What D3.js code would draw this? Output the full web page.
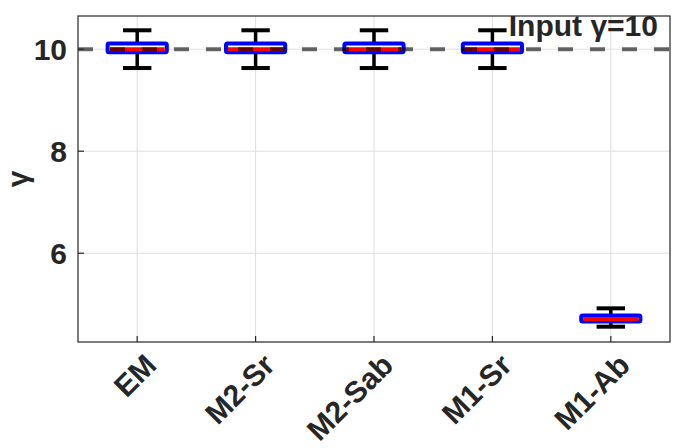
<!DOCTYPE html>
<html>
<head>
<meta charset="utf-8">
<script src="https://cdn.jsdelivr.net/npm/d3@7"></script>
<style>
    body { margin: 0; background: #fff; }
    text { font-family: "Liberation Sans", Arial, sans-serif; font-weight: bold; fill: #262626; }
</style>
</head>
<body>
<div id="chart-div"></div>
<script>
const categories = ["EM", "M2-Sr", "M2-Sab", "M1-Sr", "M1-Ab"];
const medians = [10.0, 10.0, 10.0, 10.0, 4.71];
const q1 = [9.94, 9.94, 9.94, 9.94, 4.66];
const q3 = [10.11, 10.11, 10.11, 10.11, 4.78];
const whiskerLow = [9.63, 9.63, 9.63, 9.63, 4.56];
const whiskerHigh = [10.37, 10.37, 10.37, 10.37, 4.92];
const yTicks = [6, 8, 10];
const inputGamma = 10;

const WIDTH = 678;
const HEIGHT = 448;
const LEFT = 78, RIGHT = 670, TOP = 16, BOTTOM = 342;
const BOX_WIDTH = 0.5;
const CAP_WIDTH = 0.24;

let rows = categories.map((c, i) => ({
    name: c, pos: i + 1, med: medians[i], lo: q1[i], hi: q3[i],
    wlo: whiskerLow[i], whi: whiskerHigh[i]
}));

let svg = d3.select("#chart-div")
    .append("svg")
    .attr("width", WIDTH)
    .attr("height", HEIGHT);

let xScale = d3.scaleLinear().domain([0.5, 5.5]).range([LEFT, RIGHT]);
let yScale = d3.scaleLinear().domain([4.26, 10.65]).range([BOTTOM, TOP]);

// grid
svg.append("g").selectAll("line").data(rows).enter().append("line")
    .attr("x1", d => xScale(d.pos)).attr("x2", d => xScale(d.pos))
    .attr("y1", TOP).attr("y2", BOTTOM)
    .attr("stroke", "#dedede").attr("stroke-width", 1);
svg.append("g").selectAll("line").data(yTicks).enter().append("line")
    .attr("x1", LEFT).attr("x2", RIGHT)
    .attr("y1", d => yScale(d)).attr("y2", d => yScale(d))
    .attr("stroke", "#dedede").attr("stroke-width", 1);

// boxes
let boxes = svg.append("g").selectAll("g").data(rows).enter().append("g");

boxes.append("line")
    .attr("x1", d => xScale(d.pos)).attr("x2", d => xScale(d.pos))
    .attr("y1", d => yScale(d.whi)).attr("y2", d => yScale(d.hi))
    .attr("stroke", "#000").attr("stroke-width", 3.5);
boxes.append("line")
    .attr("x1", d => xScale(d.pos)).attr("x2", d => xScale(d.pos))
    .attr("y1", d => yScale(d.lo)).attr("y2", d => yScale(d.wlo))
    .attr("stroke", "#000").attr("stroke-width", 3.5);
boxes.selectAll(".cap")
    .data(d => [d.wlo, d.whi].map(v => ({ pos: d.pos, v: v })))
    .enter().append("line")
    .classed("cap", true)
    .attr("x1", d => xScale(d.pos - CAP_WIDTH / 2))
    .attr("x2", d => xScale(d.pos + CAP_WIDTH / 2))
    .attr("y1", d => yScale(d.v)).attr("y2", d => yScale(d.v))
    .attr("stroke", "#000").attr("stroke-width", 4);

boxes.append("rect")
    .attr("x", d => xScale(d.pos - BOX_WIDTH / 2))
    .attr("width", d => xScale(d.pos + BOX_WIDTH / 2) - xScale(d.pos - BOX_WIDTH / 2))
    .attr("y", d => yScale(d.hi))
    .attr("height", d => yScale(d.lo) - yScale(d.hi))
    .attr("fill", "#fff")
    .attr("stroke", "#0000ff").attr("stroke-width", 4)
    .attr("stroke-linejoin", "round")
    .attr("rx", 1.5);

boxes.append("line")
    .attr("x1", d => xScale(d.pos - BOX_WIDTH / 2) + 2)
    .attr("x2", d => xScale(d.pos + BOX_WIDTH / 2) - 2)
    .attr("y1", d => yScale(d.med)).attr("y2", d => yScale(d.med))
    .attr("stroke", "#ff0000").attr("stroke-width", 4);

// input value reference line
svg.append("line")
    .attr("x1", LEFT).attr("x2", RIGHT)
    .attr("y1", yScale(inputGamma)).attr("y2", yScale(inputGamma))
    .attr("stroke", "rgba(0,0,0,0.6)")
    .attr("stroke-width", 4)
    .attr("stroke-dasharray", "15,17");

// axes frame
svg.append("rect")
    .attr("x", LEFT).attr("y", TOP)
    .attr("width", RIGHT - LEFT).attr("height", BOTTOM - TOP)
    .attr("fill", "none").attr("stroke", "#262626").attr("stroke-width", 1.2);

// tick marks
svg.append("g").selectAll("line").data(yTicks).enter().append("line")
    .attr("x1", LEFT).attr("x2", LEFT + 6)
    .attr("y1", d => yScale(d)).attr("y2", d => yScale(d))
    .attr("stroke", "#262626").attr("stroke-width", 1.2);
svg.append("g").selectAll("line").data(rows).enter().append("line")
    .attr("x1", d => xScale(d.pos)).attr("x2", d => xScale(d.pos))
    .attr("y1", BOTTOM).attr("y2", BOTTOM - 6)
    .attr("stroke", "#262626").attr("stroke-width", 1.2);

// tick labels
svg.append("g").selectAll("text").data(yTicks).enter().append("text")
    .attr("x", LEFT - 11)
    .attr("y", d => yScale(d) + 11)
    .attr("text-anchor", "end")
    .style("font-size", "30px")
    .text(d => d);

svg.append("g").selectAll("text").data(rows).enter().append("text")
    .attr("transform", d => "translate(" + (xScale(d.pos) + 21) + ",367)rotate(-45)")
    .attr("text-anchor", "end")
    .style("font-size", "30px")
    .text(d => d.name);

// y label
svg.append("text")
    .attr("transform", "translate(28,179)rotate(-90)")
    .attr("text-anchor", "middle")
    .style("font-size", "30px")
    .text("γ");

// annotation
svg.append("text")
    .attr("x", 658)
    .attr("y", 36)
    .attr("text-anchor", "end")
    .style("font-size", "30px")
    .text("Input γ=" + inputGamma);
</script>
</body>
</html>
